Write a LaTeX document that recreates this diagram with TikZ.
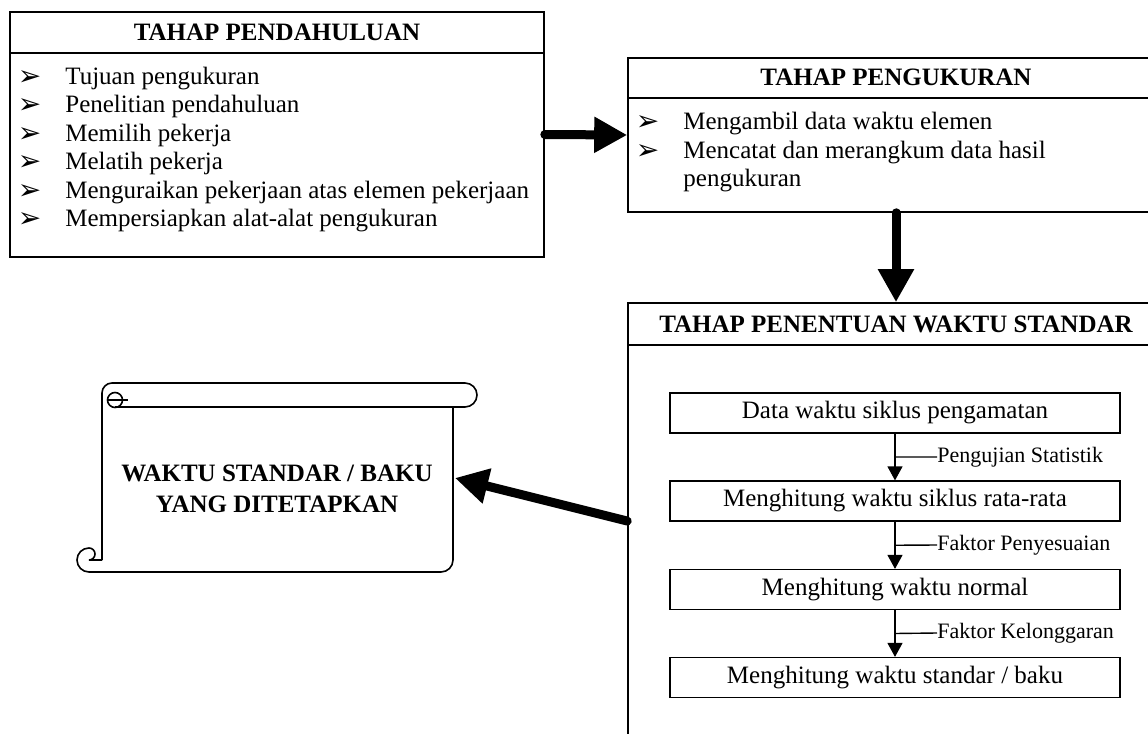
\documentclass[tikz,border=0pt]{standalone}
\usepackage{fontspec}
\setmainfont{Liberation Serif}
\newfontfamily\bulletfont{DejaVu Sans}
\usetikzlibrary{arrows.meta,calc}

\begin{document}
\begin{tikzpicture}[x=0.5pt, y=-0.5pt, every node/.style={font=\fontsize{12.5}{15}\selectfont},
  stage/.style={draw, line width=0.8pt, inner sep=0pt},
  head/.style={inner sep=0pt, font=\fontsize{12.5}{15}\selectfont\bfseries},
  item/.style={anchor=west, inner sep=0pt, text height=8.5pt, text depth=2.5pt},
  bul/.style={inner sep=0pt, font=\bulletfont\fontsize{14}{14}\selectfont},
  calcbox/.style={draw, line width=0.6pt, minimum width=225pt, minimum height=20pt, inner sep=0pt},
  tag/.style={anchor=west, inner sep=0pt, font=\fontsize{11}{13}\selectfont},
  bigarrow/.style={line width=4.5pt, line cap=round, -{Triangle[length=16.5pt, width=17pt]}},
  smallarrow/.style={line width=0.6pt, -{Triangle[length=7pt, width=7.5pt]}}]
  \clip (0,0) rectangle (1148,734);
  \node[stage, minimum width=267pt, minimum height=122.5pt] (pend) at (277,134.5) {};
  \node[stage, minimum width=268pt, minimum height=77pt] (ukur) at (896,135) {};
  \node[stage, minimum width=268pt, minimum height=218pt] (tentu) at (896,521) {};
  \draw[line width=0.8pt] (10,53) -- (544,53);
  \draw[line width=0.8pt] (628,98) -- (1164,98);
  \draw[line width=0.8pt] (628,345) -- (1164,345);
  \node[head] (hpend) at (277,32) {TAHAP PENDAHULUAN};
  \node[head] (hukur) at (896,77) {TAHAP PENGUKURAN};
  \node[head] (htentu) at (896,324) {TAHAP PENENTUAN WAKTU STANDAR};
  \foreach \t [count=\i from 0] in {Tujuan pengukuran, Penelitian pendahuluan, Memilih pekerja, Melatih pekerja,
    Menguraikan pekerjaan atas elemen pekerjaan, Mempersiapkan alat-alat pengukuran} {
    \node[bul] (pb\i) at (29.5,78+28.5*\i) {➢};
    \node[item] (pi\i) at (65,78+28.5*\i) {\t};
  }
  \node[bul] (ub0) at (647.5,123.5) {➢};
  \node[item] (ui0) at (683,123.5) {Mengambil data waktu elemen};
  \node[bul] (ub1) at (647.5,152) {➢};
  \node[item] (ui1) at (683,152) {Mencatat dan merangkum data hasil};
  \node[item] (ui2) at (683,180.5) {pengukuran};
  \node[calcbox] (d1) at (895,413) {Data waktu siklus pengamatan};
  \node[calcbox] (d2) at (895,501) {Menghitung waktu siklus rata-rata};
  \node[calcbox] (d3) at (895,589.5) {Menghitung waktu normal};
  \node[calcbox] (d4) at (895,677.5) {Menghitung waktu standar / baku};
  \draw[smallarrow] (d1) -- (d2); \draw[smallarrow] (d2) -- (d3); \draw[smallarrow] (d3) -- (d4);
  \node[tag] (t1) at (937,457) {Pengujian Statistik};
  \node[tag] (t2) at (937,545) {Faktor Penyesuaian};
  \node[tag] (t3) at (937,633) {Faktor Kelonggaran};
  \draw[line width=0.7pt] ($(d1.south)!.5!(d2.north)$) -- (t1.west);
  \draw[line width=0.7pt] ($(d2.south)!.5!(d3.north)$) -- (t2.west);
  \draw[line width=0.7pt] ($(d3.south)!.5!(d4.north)$) -- (t3.west);
  \draw[line width=0.8pt, fill=white] (112,383) -- (465,383) arc[start angle=90, end angle=-90, radius=6pt] -- (115,407);
  \draw[line width=0.8pt] (112,383) arc[start angle=90, end angle=180, radius=5pt] -- (102,560);
  \draw[line width=0.8pt] (115,400) circle[radius=3.75pt];
  \draw[line width=0.8pt] (108,400) -- (128,400);
  \draw[line width=0.8pt] (453,407) -- (453,560) arc[start angle=0, end angle=-90, radius=6pt] -- (89,572)
    arc[start angle=270, end angle=90, radius=6pt] arc[start angle=90, end angle=-90, radius=3pt] -- (102,560);
  \node[head, align=center, font=\fontsize{12.5}{15.5}\selectfont\bfseries] (hasil) at (277,489) {WAKTU STANDAR / BAKU\\YANG DITETAPKAN};
  \coordinate (scrolltip) at (455,478);
  \draw[bigarrow] (pend.east) -- (ukur.west);
  \draw[bigarrow] (ukur.south) -- (tentu.north);
  \draw[bigarrow] (tentu.west) -- (scrolltip);
\end{tikzpicture}
\end{document}
